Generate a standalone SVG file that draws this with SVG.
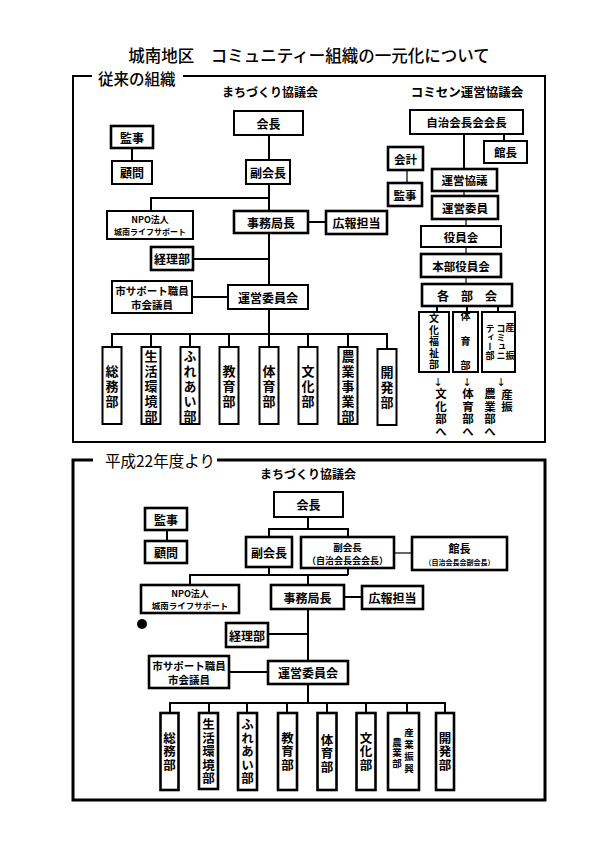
<svg xmlns="http://www.w3.org/2000/svg" width="595" height="842" viewBox="0 0 595 842">
<style>
text{font-family:"Noto Sans CJK JP","Noto Sans CJK SC",sans-serif;fill:#000;}
.b{font-weight:700;text-anchor:middle;dominant-baseline:central;}
.n{stroke:#000;stroke-width:2;fill:#fff;}
.nt{stroke:#000;stroke-width:2.6;fill:#fff;}
.c{stroke:#000;stroke-width:2;fill:none;}
.ct{stroke:#000;stroke-width:1.2;fill:none;}
.v{font-weight:700;writing-mode:vertical-rl;text-anchor:middle;}
.ar{font-family:"DejaVu Sans","Liberation Sans",sans-serif;font-size:11px;text-anchor:middle;dominant-baseline:central;fill:#000;}
</style>
<rect width="595" height="842" fill="#fff"/>
<text x="309" y="55" font-size="16.5" text-anchor="middle" dominant-baseline="central" font-weight="500">城南地区　コミュニティー組織の一元化について</text>

<!-- Frames -->
<path d="M92 76 H73 V442 H545 V76 H183" fill="none" stroke="#000" stroke-width="2"/>
<text x="98" y="78" font-size="15.5" dominant-baseline="central" font-weight="500">従来の組織</text>
<path d="M93 460 H73 V800 H545 V460 H217" fill="none" stroke="#000" stroke-width="3"/>
<text x="105" y="460" font-size="15.5" dominant-baseline="central">平成22年度より</text>

<text class="b" x="270" y="91" font-size="12">まちづくり協議会</text>
<text class="b" x="467" y="91" font-size="12.5">コミセン運営協議会</text>
<text class="b" x="308" y="473" font-size="12">まちづくり協議会</text>

<!-- Top connectors -->
<g id="connectors-top">
<path class="c" d="M132 148 V161"/>
<path class="c" d="M269 135 V160 M269 184 V211 M269 233 V285 M269 309 V334"/>
<path class="c" d="M269 198 H151 V211"/>
<path class="c" d="M308 222 H326"/>
<path class="c" d="M193 259 H269"/>
<path class="c" d="M192 297 H228"/>
<path class="c" d="M112 347 V334 H387 V349 M151 334 V347 M190 334 V347 M229 334 V347 M269 334 V347 M308 334 V347 M348 334 V347"/>
<path class="c" d="M464 134 V169 M504 134 V141"/>
<path class="ct" d="M407 170 V183 M464 191 V196 M466 219 V226 M466 247 V254 M466 277 V284"/>
<path class="c" d="M437 306 V312 M467 306 V312 M498 306 V312"/>
</g>

<!-- Top nodes -->
<g id="t-kaicho"><rect class="n" x="234" y="111" width="69" height="24"/><text class="b" x="268.5" y="123" font-size="12">会長</text></g>
<g id="t-kanji"><rect class="nt" x="111" y="126" width="42" height="22"/><text class="b" x="132" y="137" font-size="12">監事</text></g>
<g id="t-komon"><rect class="n" x="112" y="161" width="40" height="23"/><text class="b" x="132" y="172.5" font-size="12">顧問</text></g>
<g id="t-fukukaicho"><rect class="n" x="246" y="160" width="44" height="24"/><text class="b" x="268" y="172" font-size="12">副会長</text></g>
<g id="t-npo"><rect class="n" x="107" y="211" width="86" height="28"/><text class="b" x="150" y="219" font-size="9">NPO法人</text><text class="b" x="150" y="231" font-size="8">城南ライフサポート</text></g>
<g id="t-jimukyoku"><rect class="nt" x="234" y="211" width="74" height="22"/><text class="b" x="271" y="222" font-size="12">事務局長</text></g>
<g id="t-koho"><rect class="nt" x="326" y="211" width="61" height="23"/><text class="b" x="356.5" y="222.5" font-size="12">広報担当</text></g>
<g id="t-keiri"><rect class="nt" x="151" y="247" width="42" height="23"/><text class="b" x="172" y="258.5" font-size="12">経理部</text></g>
<g id="t-shi"><rect class="n" x="112" y="281" width="80" height="32"/><text class="b" x="152" y="290" font-size="10.5">市サポート職員</text><text class="b" x="152" y="304" font-size="10.5">市会議員</text></g>
<g id="t-unei"><rect class="n" x="228" y="285" width="80" height="24"/><text class="b" x="268" y="297" font-size="12">運営委員会</text></g>

<g id="t-d1"><rect class="n" x="102.5" y="347" width="19" height="77"/><text class="v" x="112" y="387" font-size="13" letter-spacing="2">総務部</text></g>
<g id="t-d2"><rect class="n" x="141.5" y="347" width="19" height="77"/><text class="v" x="151" y="387" font-size="13" letter-spacing="2">生活環境部</text></g>
<g id="t-d3"><rect class="n" x="180.5" y="347" width="19" height="77"/><text class="v" x="190" y="387" font-size="13" letter-spacing="2">ふれあい部</text></g>
<g id="t-d4"><rect class="n" x="219.5" y="347" width="19" height="77"/><text class="v" x="229" y="387" font-size="13" letter-spacing="2">教育部</text></g>
<g id="t-d5"><rect class="n" x="259.5" y="347" width="19" height="77"/><text class="v" x="269" y="387" font-size="13" letter-spacing="2">体育部</text></g>
<g id="t-d6"><rect class="n" x="298.5" y="347" width="19" height="77"/><text class="v" x="308" y="387" font-size="13" letter-spacing="2">文化部</text></g>
<g id="t-d7"><rect class="n" x="338.5" y="347" width="19" height="77"/><text class="v" x="348" y="387" font-size="13" letter-spacing="2">農業事業部</text></g>
<g id="t-d8"><rect class="n" x="377.5" y="349" width="19" height="76"/><text class="v" x="387" y="388" font-size="13" letter-spacing="2">開発部</text></g>

<!-- Comisen -->
<g id="c-jichi"><rect class="n" x="410" y="110" width="113" height="24"/><text class="b" x="466.5" y="122" font-size="11.5">自治会長会会長</text></g>
<g id="c-kancho"><rect class="n" x="484" y="141" width="43" height="22"/><text class="b" x="505.5" y="152" font-size="11.5">館長</text></g>
<g id="c-kaikei"><rect class="nt" x="388" y="147" width="35" height="23"/><text class="b" x="405.5" y="158.5" font-size="11.5">会計</text></g>
<g id="c-kanji"><rect class="nt" x="388" y="183" width="34" height="23"/><text class="b" x="405" y="194.5" font-size="11.5">監事</text></g>
<g id="c-kyogi"><rect class="nt" x="432" y="169" width="65" height="22"/><text class="b" x="464.5" y="180" font-size="11.5">運営協議</text></g>
<g id="c-iin"><rect class="nt" x="432" y="196" width="66" height="23"/><text class="b" x="465" y="207.5" font-size="11.5">運営委員</text></g>
<g id="c-yakuin"><rect class="n" x="421" y="226" width="80" height="21"/><text class="b" x="461" y="236.5" font-size="11.5">役員会</text></g>
<g id="c-honbu"><rect class="nt" x="421" y="254" width="80" height="23"/><text class="b" x="461" y="265.5" font-size="11.5">本部役員会</text></g>
<g id="c-kakubu"><rect class="nt" x="422" y="284" width="90" height="22"/><text class="b" x="467" y="295" font-size="12">各　部　会</text></g>
<g id="c-bunka"><rect class="n" x="419" y="312" width="30" height="60"/><text class="v" x="434" y="342" font-size="10" letter-spacing="1.5">文化福祉部</text></g>
<g id="c-taiiku"><rect class="n" x="453" y="312" width="25" height="60"/><text class="v" x="465.5" y="348" font-size="10" letter-spacing="14.5">体育部</text></g>
<g id="c-comi"><rect class="n" x="482" y="312" width="33" height="60"/><text class="v" x="510" y="351" font-size="9" letter-spacing="19">産振</text><text class="v" x="501" y="342" font-size="9">コミュニ</text><text class="v" x="490" y="342" font-size="9">ティー部</text></g>
<g id="c-arrows">
<text class="ar" x="438" y="382">↓</text>
<text class="v" x="441" y="413" font-size="11.5" letter-spacing="1">文化部へ</text>
<text class="ar" x="467" y="382">↓</text>
<text class="v" x="468" y="413" font-size="11.5" letter-spacing="1">体育部へ</text>
<text class="ar" x="501" y="382">↓</text>
<text class="v" x="507" y="401" font-size="11.5" letter-spacing="1">産振</text>
<text class="v" x="490" y="413" font-size="11.5" letter-spacing="1">農業部へ</text>
</g>

<!-- Bottom connectors -->
<g id="connectors-bottom">
<path class="c" d="M167 530 V541"/>
<path class="c" d="M308 517 V529 M269 537 V529 H348 V537"/>
<path class="ct" d="M394 553 H412"/>
<path class="c" d="M269 567 V575 M348 568 V575 M190 585 V575 H348 M308 575 V585"/>
<path class="c" d="M344 597 H362"/>
<path class="c" d="M308 609 V661"/>
<path class="c" d="M268 634 H308"/>
<path class="c" d="M229 672 H268"/>
<path class="c" d="M308 684 V703 M170 713 V703 H445 V713 M209 703 V713 M247 703 V713 M287 703 V713 M327 703 V713 M366 703 V713 M407 703 V713"/>
</g>

<g id="b-kaicho"><rect class="n" x="274" y="492" width="69" height="25"/><text class="b" x="308.5" y="504.5" font-size="12">会長</text></g>
<g id="b-kanji"><rect class="nt" x="145" y="508" width="42" height="22"/><text class="b" x="166" y="519" font-size="12">監事</text></g>
<g id="b-komon"><rect class="nt" x="145" y="541" width="42" height="22"/><text class="b" x="166" y="552" font-size="12">顧問</text></g>
<g id="b-fuku1"><rect class="nt" x="246" y="537" width="46" height="30"/><text class="b" x="269" y="552" font-size="12">副会長</text></g>
<g id="b-fuku2"><rect class="nt" x="301" y="537" width="93" height="31"/><text class="b" x="347.5" y="547" font-size="9.5">副会長</text><text class="b" x="347.5" y="560" font-size="9">（自治会長会会長）</text></g>
<g id="b-kancho"><rect class="nt" x="412" y="537" width="95" height="33"/><text class="b" x="459.5" y="548" font-size="11">館長</text><text class="b" x="459.5" y="562" font-size="7">（自治会長会副会長）</text></g>
<g id="b-npo"><rect class="nt" x="141" y="585" width="98" height="28"/><text class="b" x="190" y="593" font-size="9">NPO法人</text><text class="b" x="190" y="605" font-size="8.5">城南ライフサポート</text></g>
<g id="b-jimukyoku"><rect class="nt" x="271" y="585" width="73" height="24"/><text class="b" x="307.5" y="597" font-size="12">事務局長</text></g>
<g id="b-koho"><rect class="nt" x="362" y="586" width="61" height="23"/><text class="b" x="392.5" y="597.5" font-size="12">広報担当</text></g>
<circle cx="142" cy="624" r="5" fill="#000"/>
<g id="b-keiri"><rect class="nt" x="226" y="623" width="42" height="24"/><text class="b" x="247" y="635" font-size="12">経理部</text></g>
<g id="b-shi"><rect class="nt" x="149" y="656" width="80" height="32"/><text class="b" x="189" y="665" font-size="10.5">市サポート職員</text><text class="b" x="189" y="679" font-size="10.5">市会議員</text></g>
<g id="b-unei"><rect class="nt" x="268" y="661" width="80" height="23"/><text class="b" x="308" y="672.5" font-size="12">運営委員会</text></g>

<g id="b-d1"><rect class="nt" x="160.5" y="713" width="18" height="77"/><text class="v" x="169.5" y="752" font-size="12.5" letter-spacing="1">総務部</text></g>
<g id="b-d2"><rect class="nt" x="199" y="713" width="19" height="76"/><text class="v" x="208.5" y="752" font-size="12.5" letter-spacing="1">生活環境部</text></g>
<g id="b-d3"><rect class="nt" x="238" y="713" width="19" height="77"/><text class="v" x="247.5" y="752" font-size="12.5" letter-spacing="1">ふれあい部</text></g>
<g id="b-d4"><rect class="nt" x="278" y="713" width="19" height="77"/><text class="v" x="287.5" y="752" font-size="12.5" letter-spacing="1">教育部</text></g>
<g id="b-d5"><rect class="nt" x="317.5" y="713" width="19" height="77"/><text class="v" x="327" y="754" font-size="12.5" letter-spacing="1">体育部</text></g>
<g id="b-d6"><rect class="nt" x="356.5" y="713" width="19" height="77"/><text class="v" x="366" y="752" font-size="12.5" letter-spacing="1">文化部</text></g>
<g id="b-d7"><rect class="nt" x="388" y="713" width="31" height="77"/><text class="v" x="409" y="752" font-size="9.5" letter-spacing="2.5">産業振興</text><text class="v" x="397" y="753" font-size="9.5" letter-spacing="1">農業部</text></g>
<g id="b-d8"><rect class="nt" x="436" y="713" width="18" height="77"/><text class="v" x="445" y="752" font-size="12.5" letter-spacing="1">開発部</text></g>
</svg>
